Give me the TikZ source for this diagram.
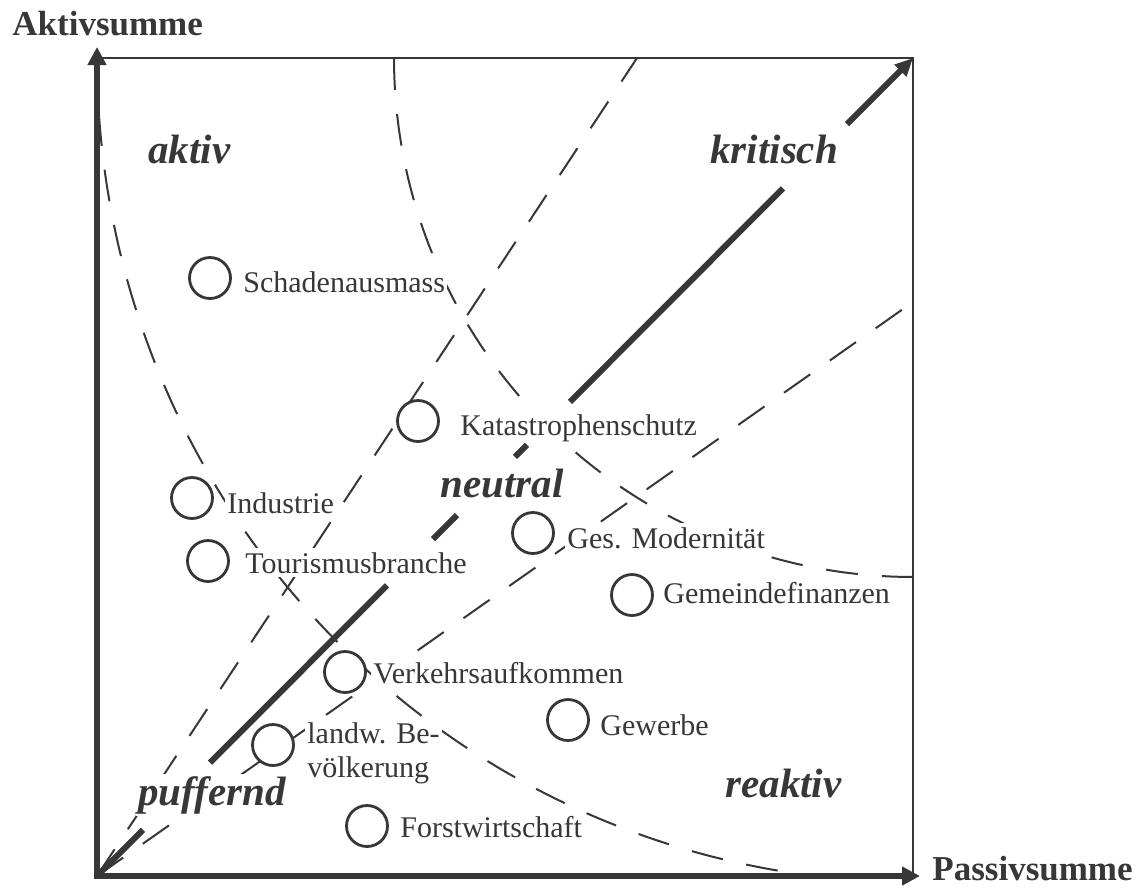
\documentclass[tikz,border=0pt]{standalone}
\usepackage{fontspec}
\setmainfont{Liberation Serif}
\usetikzlibrary{arrows.meta,calc}
\definecolor{ink}{RGB}{55,55,55}
\begin{document}
\begin{tikzpicture}[x=0.5pt,y=-0.5pt,
  every node/.style={text=ink},
  dsh/.style={draw=ink, line width=1pt, dash pattern=on 16pt off 12pt},
  axis/.style={draw=ink, line width=2.6pt, line join=miter, {Triangle[length=9pt,width=9pt]}-{Triangle[length=9pt,width=9pt]}},
  frame/.style={draw=ink, line width=1.2pt},
  diag/.style={draw=ink, line width=3pt},
  item/.style={circle, draw=ink, fill=white, line width=1.4pt, minimum size=20.5pt, inner sep=0pt},
  lbl/.style={anchor=base west, fill=white, inner xsep=1pt, inner ysep=2pt, font=\fontsize{15}{18}\selectfont},
  region/.style={anchor=base west, fill=white, inner sep=1pt, font=\fontsize{20.5}{24}\selectfont\bfseries\itshape},
  axlbl/.style={anchor=base west, inner sep=0pt, font=\fontsize{17.5}{21}\selectfont\bfseries}
]
\path[use as bounding box] (0,0) rectangle (1136,895);

% key points
\coordinate (O) at (97,876);
\coordinate (T) at (913,58);
\coordinate (TL) at (97,58);
\coordinate (BR) at (913,876);
\coordinate (Ytip) at (97,47);
\coordinate (Xtip) at (920,876);
\coordinate (S) at (637,58);
\coordinate (F) at (913,302);

% frame
\draw[frame] (TL) -- (T) -- (BR);

% dashed separators
\draw[dsh] (O) -- (S);
\draw[dsh] (O) -- (F);
\draw[dsh] plot[domain=180:263, samples=90, smooth] ({913+816*cos(\x)},{58-824*sin(\x)});
\draw[dsh] plot[domain=180:270, samples=70, smooth] ({913+519*cos(\x)},{58-519*sin(\x)});

% items
\node[item] (c1) at (210,278) {};
\node[lbl] (t1) at (241,292) {Schadenausmass};
\node[item] (c2) at (418,421) {};
\node[lbl] (t2) at (458,435) {Katastrophenschutz};
\node[item] (c3) at (192,498) {};
\node[lbl] (t3) at (225,513) {Industrie};
\node[item] (c4) at (208,561) {};
\node[lbl] (t4) at (243,573) {Tourismusbranche};
\node[item] (c5) at (533,533) {};
\node[lbl] (t5) at (565,548) {Ges. Modernität};
\node[item] (c6) at (632,595) {};
\node[lbl] (t6) at (661,603) {Gemeindefinanzen};
\node[item] (c7) at (345,672) {};
\node[lbl] (t7) at (371,683) {Verkehrsaufkommen};
\node[item] (c8) at (273,745) {};
\node[lbl] (t8a) at (305,743) {landw. Be-};
\node[lbl] (t8b) at (305,777) {völkerung};
\node[item] (c9) at (367,826) {};
\node[lbl] (t9) at (398,837) {Forstwirtschaft};
\node[item] (c10) at (568,720) {};
\node[lbl] (t10) at (598,735) {Gewerbe};

% region labels
\node[region] (aktiv) at (146,163) {aktiv};
\node[region] (kritisch) at (708,163) {kritisch};
\node[region] (neutral) at (438,497) {neutral};
\node[region] (puffernd) at (136,805) {puffernd};
\node[region] (reaktiv) at (723,797) {reaktiv};

% main diagonal, broken around the labels
\coordinate (d1) at ($(O)!0.0564!(T)$);
\coordinate (d2) at ($(O)!0.1385!(T)$);
\coordinate (d3) at ($(O)!0.3554!(T)$);
\coordinate (d4) at ($(O)!0.4118!(T)$);
\coordinate (d5) at ($(O)!0.4412!(T)$);
\coordinate (d6) at ($(O)!0.5123!(T)$);
\coordinate (d7) at ($(O)!0.5270!(T)$);
\coordinate (d8) at ($(O)!0.5797!(T)$);
\coordinate (d9) at ($(O)!0.8407!(T)$);
\coordinate (d10) at ($(O)!0.9191!(T)$);
\draw[diag] (O) -- (d1);
\draw[diag] (d2) -- (d3);
\draw[diag] (d4) -- (d5);
\draw[diag] (d6) -- (d7);
\draw[diag] (d8) -- (d9);
\draw[diag, -{Triangle[length=9pt,width=8pt]}] (d10) -- (T);

% axes
\draw[axis] (Ytip) -- (O) -- (Xtip);
\node[axlbl] (ya) at (12,35) {Aktivsumme};
\node[axlbl] (xa) at (932,880) {Passivsumme};
\end{tikzpicture}
\end{document}
